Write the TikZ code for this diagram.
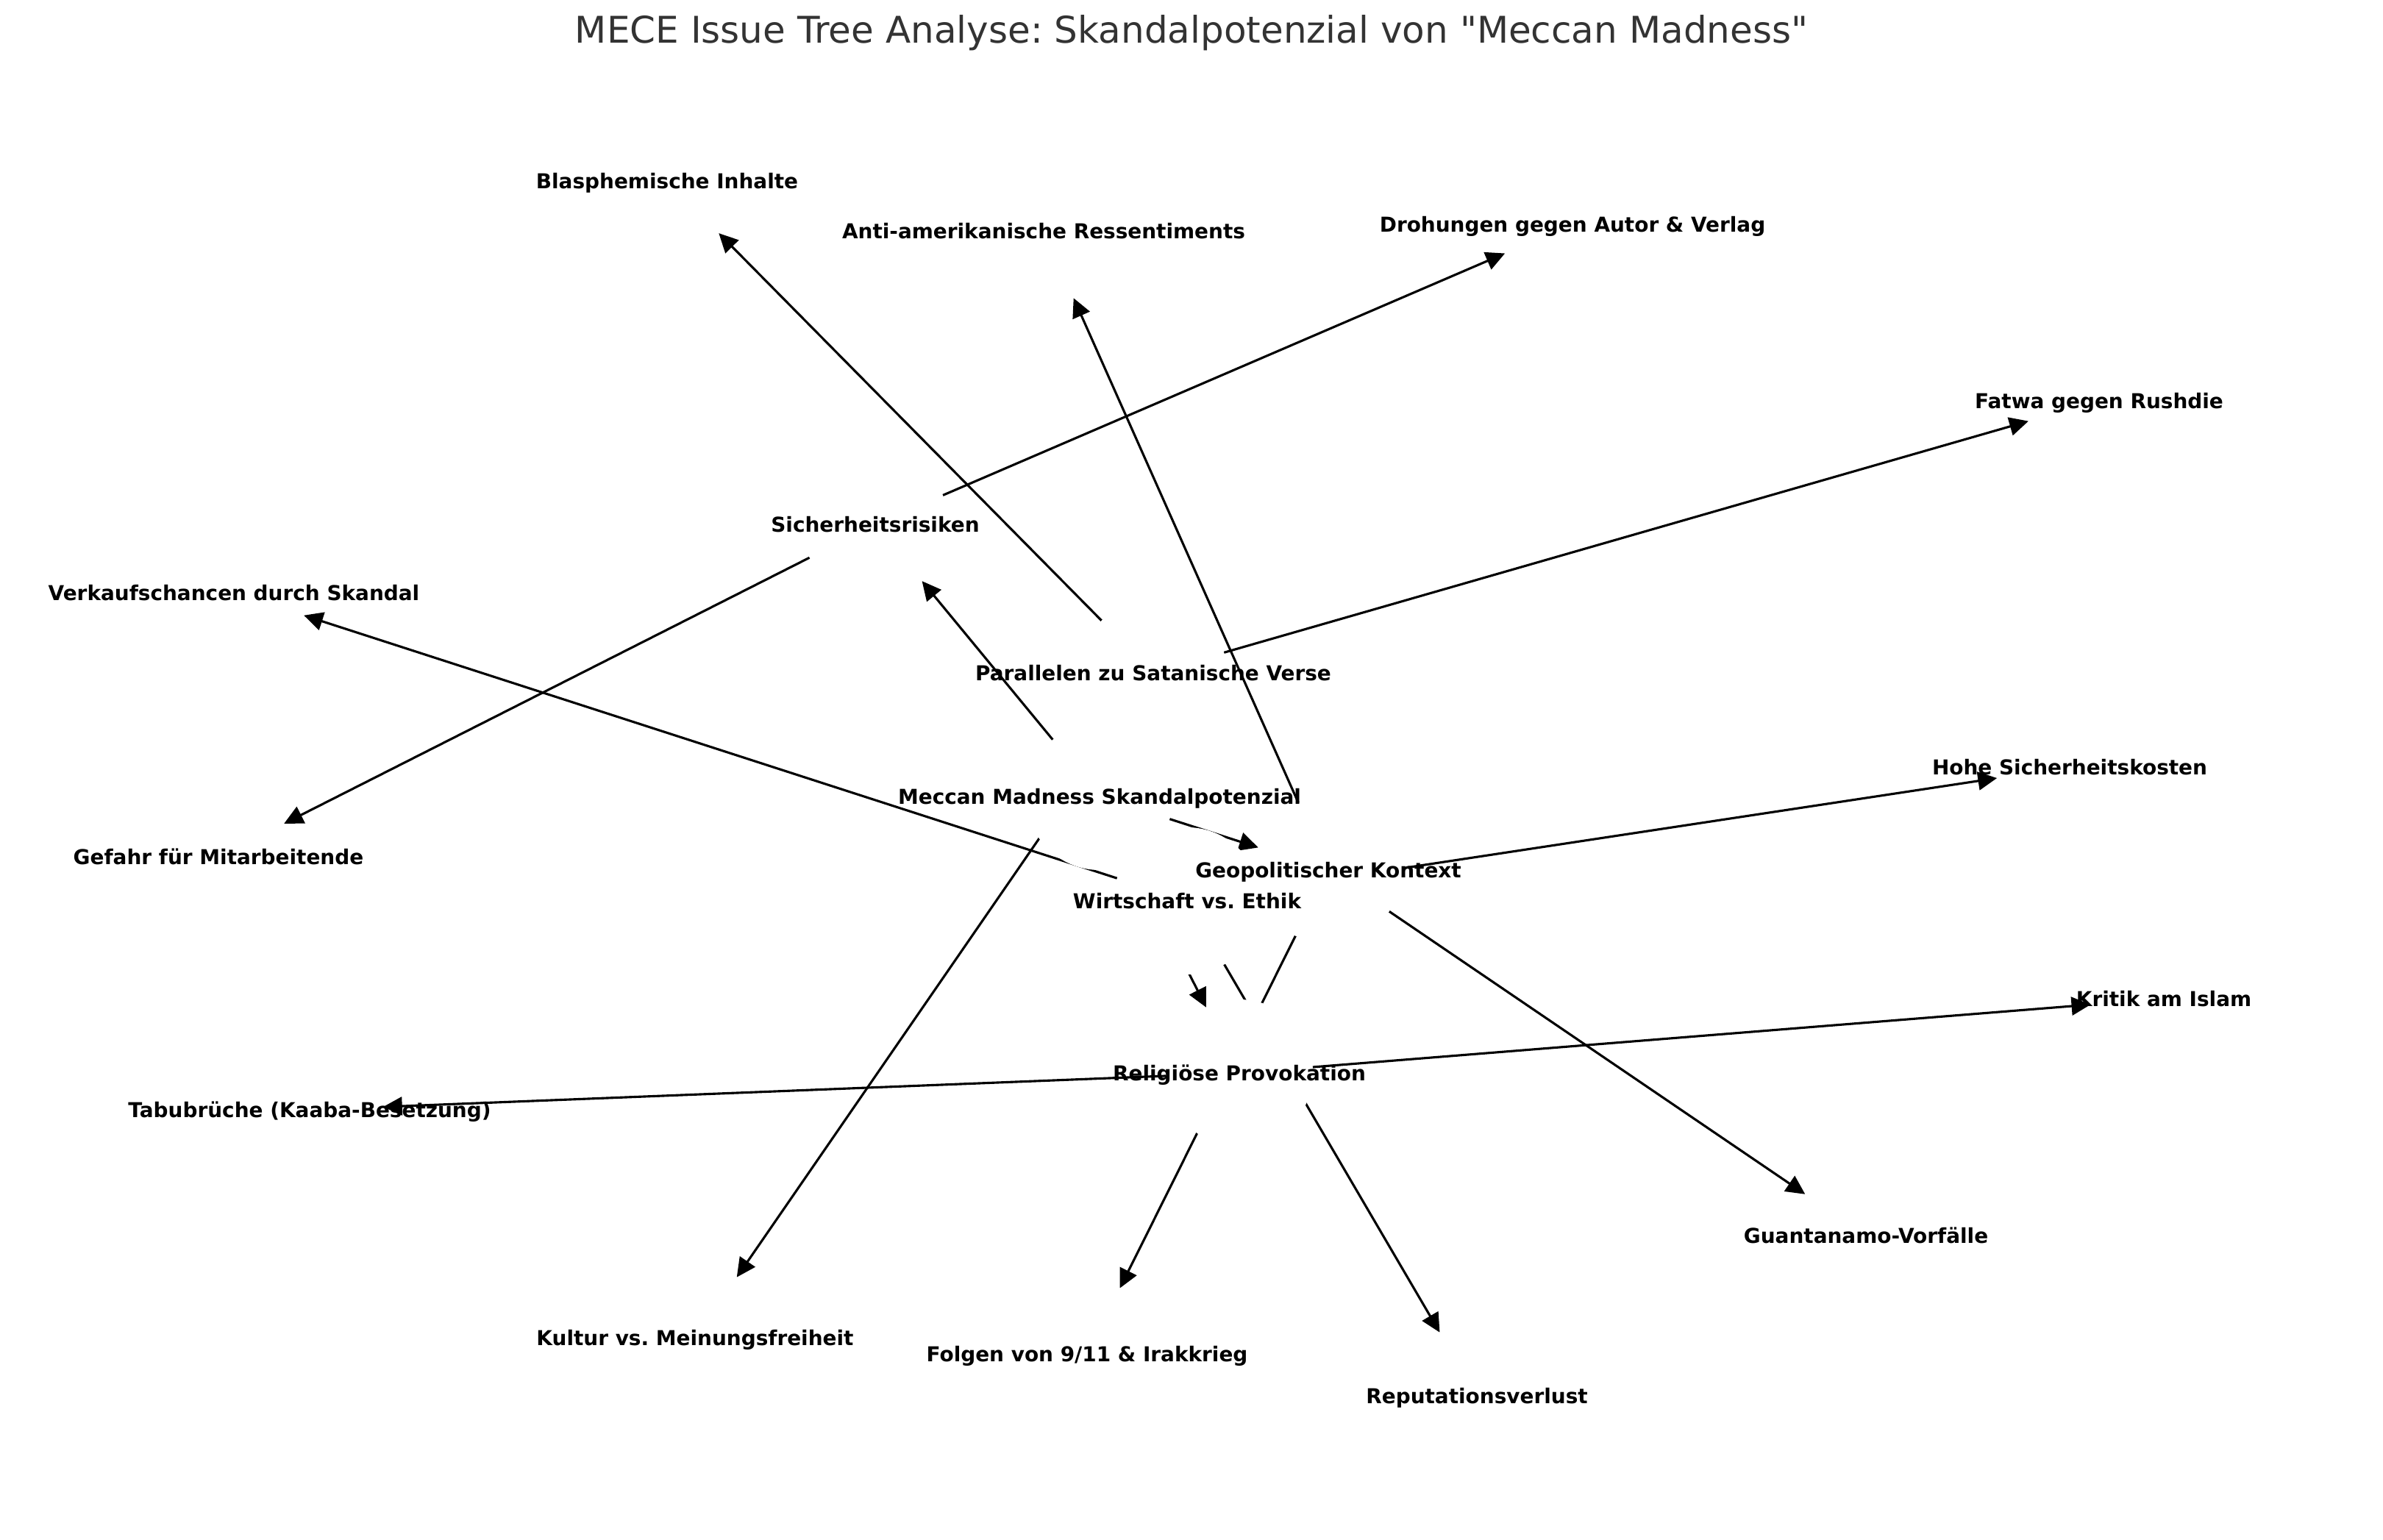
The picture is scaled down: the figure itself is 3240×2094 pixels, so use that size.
\documentclass[tikz,border=0pt]{standalone}
\usepackage{fontspec}
\setmainfont{DejaVu Sans}
\newfontfamily\titlefont{DejaVu Sans}
\usetikzlibrary{arrows.meta}
\definecolor{titlegrey}{HTML}{333333}
\pgfdeclarelayer{background}
\pgfsetlayers{background,main}
\frenchspacing
\tikzset{
  spot/.style={circle, fill=white, draw=none, minimum size=48pt, inner sep=0pt, outer sep=0pt},
  lbl/.style={font=\fontsize{6.7}{8}\selectfont\bfseries, inner sep=0pt, text height=0.928em, text depth=0.236em, anchor=center, yshift=1pt},
  link/.style={line width=0.75pt, -{Triangle[length=6.2pt,width=6pt]}},
  headline/.style={font=\titlefont\fontsize{12}{14}\selectfont, text=titlegrey, inner sep=0pt, anchor=base},
}
\begin{document}
\begin{tikzpicture}[x=0.24pt,y=-0.24pt]
\useasboundingbox (0,0) rectangle (3240,2094);
% node spots (white discs, as in the source drawing)
\node[spot] (root)    at (1495,1083) {};
\node[spot] (sicher)  at (1190,713)  {};
\node[spot] (geo)     at (1806,1183) {};
\node[spot] (wirt)    at (1614,1225) {};
\node[spot] (rel)     at (1685,1459) {};
\node[spot] (par)     at (1568,915)  {};
\node[spot] (blasph)  at (907,246)   {};
\node[spot] (anti)    at (1419,314)  {};
\node[spot] (droh)    at (2138,305)  {};
\node[spot] (fatwa)   at (2854,545)  {};
\node[spot] (verkauf) at (318,806)   {};
\node[spot] (hohe)    at (2814,1043) {};
\node[spot] (gefahr)  at (297,1165)  {};
\node[spot] (kritik)  at (2942,1358) {};
\node[spot] (tabu)    at (421,1509)  {};
\node[spot] (guant)   at (2537,1680) {};
\node[spot] (kultur)  at (945,1819)  {};
\node[spot] (folgen)  at (1478,1841) {};
\node[spot] (reput)   at (2008,1898) {};
% connectors, behind the discs
\begin{pgfonlayer}{background}
\draw[link] (root) -- (sicher);
\draw[link] (root) -- (geo);
\draw[link] (root) -- (rel);
\draw[link] (par) -- (blasph);
\draw[link] (par) -- (fatwa);
\draw[link] (par) -- (kultur);
\draw[link] (sicher) -- (droh);
\draw[link] (sicher) -- (gefahr);
\draw[link] (geo) -- (anti);
\draw[link] (geo) -- (guant);
\draw[link] (geo) -- (folgen);
\draw[link] (wirt) -- (verkauf);
\draw[link] (wirt) -- (hohe);
\draw[link] (wirt) -- (reput);
\draw[link] (rel) -- (tabu);
\draw[link] (rel) -- (kritik);
\end{pgfonlayer}
% labels
\node[lbl] (root-t)    at (root)    {Meccan Madness Skandalpotenzial};
\node[lbl] (sicher-t)  at (sicher)  {Sicherheitsrisiken};
\node[lbl] (geo-t)     at (geo)     {Geopolitischer Kontext};
\node[lbl] (wirt-t)    at (wirt)    {Wirtschaft vs. Ethik};
\node[lbl] (rel-t)     at (rel)     {Religiöse Provokation};
\node[lbl] (par-t)     at (par)     {Parallelen zu Satanische Verse};
\node[lbl] (blasph-t)  at (blasph)  {Blasphemische Inhalte};
\node[lbl] (anti-t)    at (anti)    {Anti-amerikanische Ressentiments};
\node[lbl] (droh-t)    at (droh)    {Drohungen gegen Autor \& Verlag};
\node[lbl] (fatwa-t)   at (fatwa)   {Fatwa gegen Rushdie};
\node[lbl] (verkauf-t) at (verkauf) {Verkaufschancen durch Skandal};
\node[lbl] (hohe-t)    at (hohe)    {Hohe Sicherheitskosten};
\node[lbl] (gefahr-t)  at (gefahr)  {Gefahr für Mitarbeitende};
\node[lbl] (kritik-t)  at (kritik)  {Kritik am Islam};
\node[lbl] (tabu-t)    at (tabu)    {Tabubrüche (Kaaba-Besetzung)};
\node[lbl] (guant-t)   at (guant)   {Guantanamo-Vorfälle};
\node[lbl] (kultur-t)  at (kultur)  {Kultur vs. Meinungsfreiheit};
\node[lbl] (folgen-t)  at (folgen)  {Folgen von 9/11 \& Irakkrieg};
\node[lbl] (reput-t)   at (reput)   {Reputationsverlust};
% title
\node[headline] (title) at (1620,59) {MECE Issue Tree Analyse: Skandalpotenzial von "Meccan Madness"};
\end{tikzpicture}
\end{document}
